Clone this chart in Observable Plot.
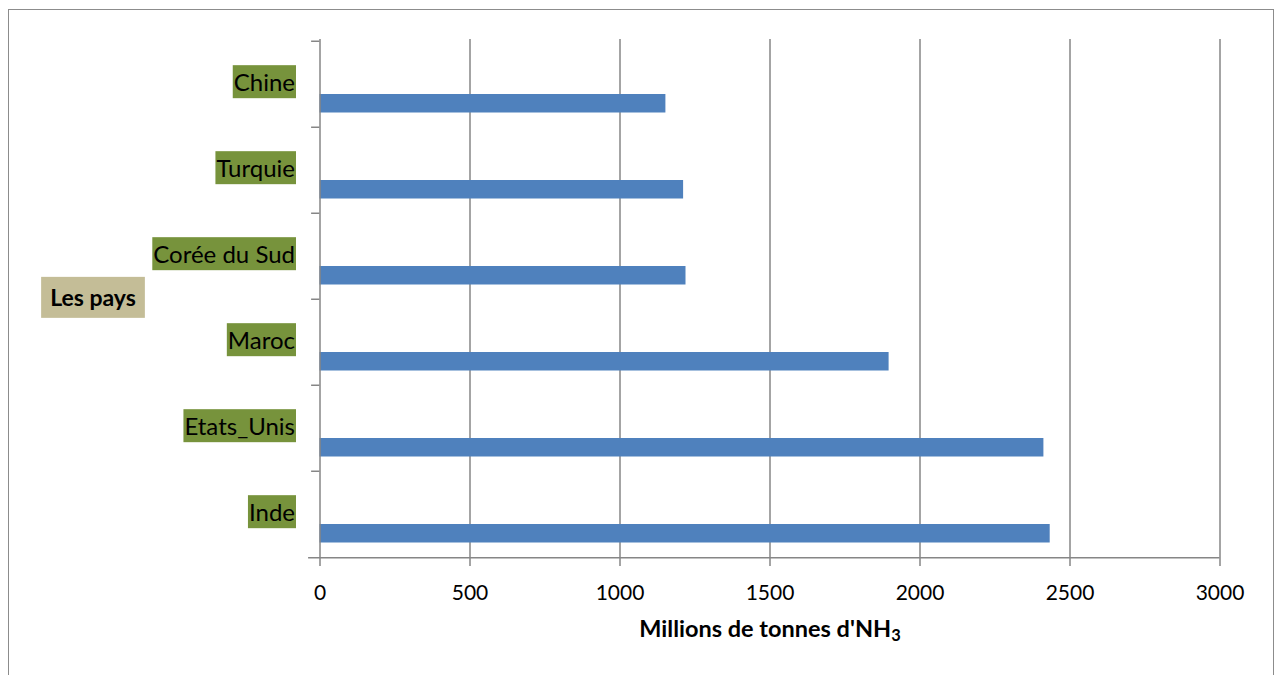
<!DOCTYPE html>
<html>
<head>
<meta charset="utf-8">
<script src="https://cdn.jsdelivr.net/npm/d3@7"></script>
<script src="https://cdn.jsdelivr.net/npm/@observablehq/plot@0.6"></script>
<style>
  html, body { margin: 0; padding: 0; background: #fff; }
  #wrap { position: relative; width: 1282px; height: 675px; overflow: hidden; }
  #border { position: absolute; left: 8px; top: 9px; width: 1266px; height: 700px;
            border: 1.5px solid #8c8c8c; box-sizing: border-box; pointer-events: none; }
  svg { position: absolute; left: 0; top: 0; }
</style>
</head>
<body>
<div id="wrap"><div id="border"></div></div>
<script>
const countries = ["Chine", "Turquie", "Corée du Sud", "Maroc", "Etats_Unis", "Inde"];
const values = [1153, 1212, 1220, 1897, 2413, 2434];
const xTicks = [0, 500, 1000, 1500, 2000, 2500, 3000];
const yTitle = "Les pays";
const xTitle = "Millions de tonnes d'NH3";

const data = countries.map((c, i) => ({country: c, value: values[i]}));

const W = 1282, H = 675;
const mL = 319.5, mR = W - 1219.5, mT = 39, mB = H - 558;
const band = (H - mT - mB) / countries.length;
const grey = "#868686";
const font = "Lato, 'Open Sans', sans-serif";

const chart = Plot.plot({
  width: W,
  height: H,
  marginLeft: mL,
  marginRight: mR,
  marginTop: mT,
  marginBottom: mB,
  style: {fontFamily: font, fontSize: "21px", color: "#000", background: "transparent"},
  x: {domain: [0, 3000], ticks: xTicks},
  y: {type: "band", domain: countries, padding: 0},
  marks: [
    Plot.gridX(xTicks.slice(1), {stroke: grey, strokeOpacity: 1, strokeWidth: 1.5}),
    Plot.barX(data, {x: "value", y: "country", fill: "#4F81BD", insetTop: 53, insetBottom: 14.5}),
    Plot.ruleX([0], {stroke: grey, strokeWidth: 1.5}),
    Plot.ruleY(countries, {y: d => d, dy: -band / 2, x1: -28, x2: 0, stroke: grey, strokeWidth: 1.5, clip: false}),
    Plot.ruleY(["Inde"], {y: d => d, dy: band / 2, x1: -38, x2: 3000, stroke: grey, strokeWidth: 1.5}),
    Plot.axisX({ticks: xTicks, tickSize: 8, tickPadding: 19, stroke: grey, strokeWidth: 1.5, fontSize: 21, label: null, tickFormat: d => String(d)}),
    Plot.axisY({ticks: [], label: null}),
    Plot.text(countries, {y: d => d, frameAnchor: "left", dx: -25, dy: -1, textAnchor: "end", fontSize: 24, fill: "#000"}),
    Plot.text([yTitle], {frameAnchor: "left", dx: -227, textAnchor: "middle", fontSize: 23, fontWeight: "bold", fill: "#000"}),
    Plot.text([xTitle], {frameAnchor: "bottom", dy: 78, textAnchor: "middle", fontSize: 23.5, fontWeight: "bold", fill: "#000"})
  ]
});

document.getElementById("wrap").appendChild(chart);

// background boxes behind the category labels and the y title
const svgNS = "http://www.w3.org/2000/svg";
chart.querySelectorAll("text").forEach(t => {
  const txt = t.textContent;
  if (countries.includes(txt) || txt === yTitle) {
    const b = t.getBBox();
    const r = document.createElementNS(svgNS, "rect");
    const isTitle = txt === yTitle;
    const padX = isTitle ? 9 : 1;
    const h = isTitle ? 41 : 33;
    const cy = b.y + b.height / 2;
    r.setAttribute("x", b.x - padX);
    r.setAttribute("y", cy - h / 2);
    r.setAttribute("width", b.width + 2 * padX);
    r.setAttribute("height", h);
    r.setAttribute("fill", isTitle ? "#C4BD97" : "#77933C");
    if (t.getAttribute("transform")) r.setAttribute("transform", t.getAttribute("transform"));
    t.parentNode.insertBefore(r, t);
  }
  if (txt === xTitle) {
    t.textContent = "";
    const a = document.createElementNS(svgNS, "tspan");
    a.textContent = "Millions de tonnes d'NH";
    const s = document.createElementNS(svgNS, "tspan");
    s.textContent = "3";
    s.setAttribute("dy", "0.3em");
    s.setAttribute("font-size", "0.7em");
    t.appendChild(a);
    t.appendChild(s);
  }
});
</script>
</body>
</html>
